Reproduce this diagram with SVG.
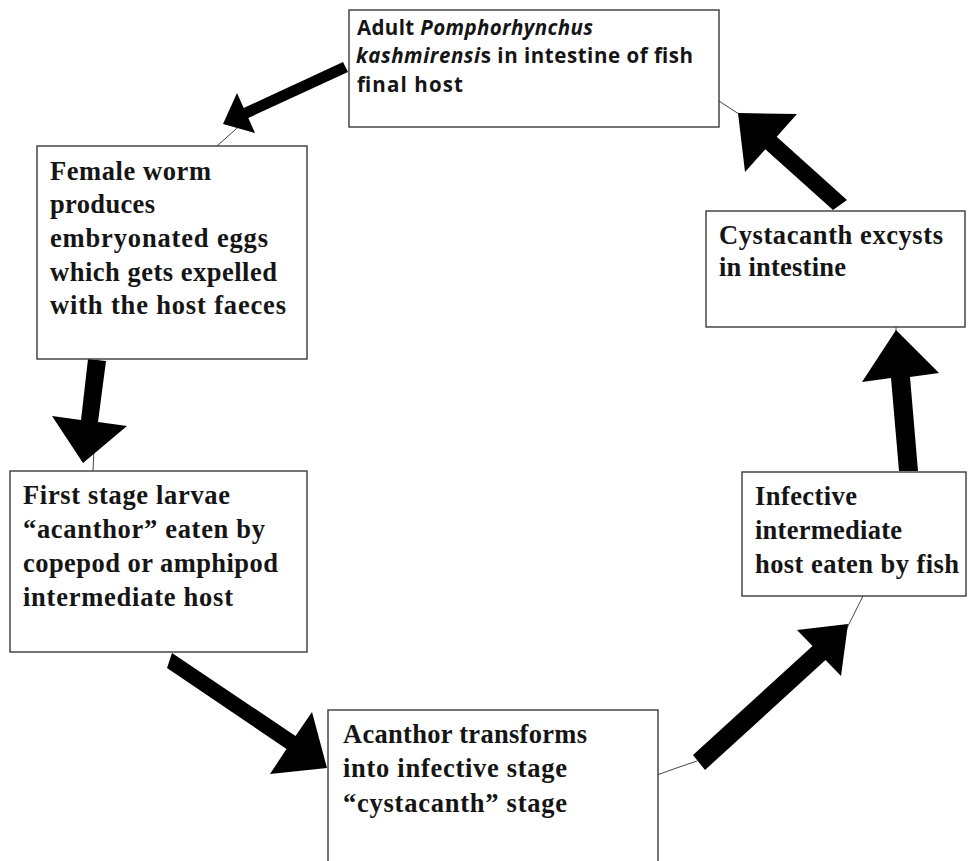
<svg xmlns="http://www.w3.org/2000/svg" width="968" height="861" viewBox="0 0 968 861">
<style>
.box{fill:#fff;stroke:#3a3a3a;stroke-width:1.4}
.t{font-family:"Liberation Serif","Times New Roman",serif;font-weight:bold;font-size:26.5px;fill:#151515}
.s{font-family:"Open Sans","Liberation Sans",Arial,sans-serif;font-weight:bold;font-size:20.5px;fill:#151515}
.arr{fill:#000}
.thin{stroke:#444;stroke-width:1;fill:none}
</style>
<rect width="968" height="861" fill="#fff"/>
<g id="connectors">
<line class="thin" x1="245" y1="121" x2="217" y2="146"/>
<line class="thin" x1="98" y1="359" x2="93" y2="471"/>
<path class="thin" d="M657,775 Q676,768 697,761"/>
<line class="thin" x1="846" y1="630" x2="863" y2="596"/>
<line class="thin" x1="896" y1="326" x2="896" y2="334"/>
<line class="thin" x1="719" y1="101" x2="742" y2="116"/>
<polygon class="arr" points="343,62 243.7,108 237,93 223,124 255,133 248.3,118 348,72"/>
<polygon class="arr" points="88,359 106,361 98,422 127,426 83,463 52,416 81,420"/>
<polygon class="arr" points="172,653 295.5,736 312,712 327,768 270,774 286.5,749 167,668"/>
<polygon class="arr" points="693,755 812.5,646 797,630 848,624 841,676 825.5,660 705,770"/>
<polygon class="arr" points="899,471 918,471 910,377 939,373 896,330 862,382 891,378"/>
<polygon class="arr" points="847,200 776.7,136.7 797,114 738,113 745,172 765.3,149.3 833,210"/>
</g>
<g id="adult">
<rect class="box" x="349" y="10" width="370" height="117"/>
<text class="s" x="357" y="35" textLength="236">Adult <tspan font-style="italic">Pomphorhynchus</tspan></text>
<text class="s" x="356" y="63" textLength="337"><tspan font-style="italic">kashmirensi</tspan>s  in intestine of fish</text>
<text class="s" x="357" y="92" textLength="106">final  host</text>
</g>
<g id="female">
<rect class="box" x="37" y="146" width="270" height="213"/>
<text class="t" x="50" y="180" textLength="161">Female worm</text>
<text class="t" x="50" y="213" textLength="105">produces</text>
<text class="t" x="50" y="247" textLength="218">embryonated  eggs</text>
<text class="t" x="50" y="281" textLength="227">which gets expelled</text>
<text class="t" x="50" y="314" textLength="236">with the host faeces</text>
</g>
<g id="first">
<rect class="box" x="10" y="471" width="297" height="181"/>
<text class="t" x="23" y="504" textLength="207">First stage larvae</text>
<text class="t" x="23" y="538" textLength="242">“acanthor” eaten by</text>
<text class="t" x="23" y="572" textLength="255">copepod or amphipod</text>
<text class="t" x="23" y="606" textLength="210">intermediate  host</text>
</g>
<g id="acanthor">
<rect class="box" x="328" y="710" width="330" height="160"/>
<text class="t" x="343" y="743" textLength="244">Acanthor transforms</text>
<text class="t" x="343" y="777" textLength="224">into infective stage</text>
<text class="t" x="343" y="812" textLength="224">“cystacanth” stage</text>
</g>
<g id="infective">
<rect class="box" x="742" y="472" width="224" height="124"/>
<text class="t" x="755" y="505" textLength="102">Infective</text>
<text class="t" x="755" y="539" textLength="147">intermediate</text>
<text class="t" x="755" y="573" textLength="204">host eaten by fish</text>
</g>
<g id="cystacanth">
<rect class="box" x="706" y="211" width="259" height="116"/>
<text class="t" x="719" y="244" textLength="224">Cystacanth  excysts</text>
<text class="t" x="719" y="276" textLength="127">in intestine</text>
</g>
</svg>
